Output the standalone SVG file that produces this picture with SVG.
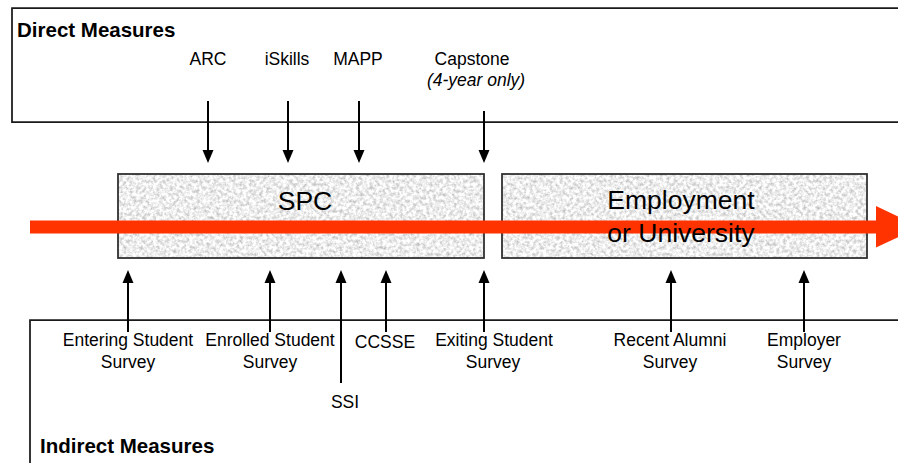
<svg xmlns="http://www.w3.org/2000/svg" width="898" height="463" viewBox="0 0 898 463">
  <style>
    .panel { fill: #ffffff; stroke: #1a1a1a; stroke-width: 1.75; }
    .box { fill: none; stroke: #2b2b2b; stroke-width: 1.75; }
    .tex { fill: #e8e8e8; filter: url(#granite); }
    .conn { stroke: #000; stroke-width: 2; fill: none; }
    .down { marker-end: url(#ah); }
    .up { marker-end: url(#ah); }
    text { font-family: "Liberation Sans", Arial, Helvetica, sans-serif; fill: #000; }
    .lbl { font-size: 17.5px; text-anchor: middle; }
    .ital { font-style: italic; }
    .title { font-size: 20.5px; font-weight: bold; }
    .big { font-size: 26.5px; text-anchor: middle; }
  </style>
  <defs>
    <filter id="granite" x="0" y="0" width="100%" height="100%" color-interpolation-filters="sRGB">
      <feTurbulence type="fractalNoise" baseFrequency="0.3" numOctaves="4" seed="7" result="n"/>
      <feColorMatrix in="n" type="matrix" values="0.5 0 0 0 0.68  0.5 0 0 0 0.68  0.5 0 0 0 0.68  0 0 0 0 1"/>
    </filter>
    <marker id="ah" markerUnits="userSpaceOnUse" markerWidth="13" markerHeight="11" refX="9" refY="5.5" orient="auto" overflow="visible">
      <path d="M0,0 L13,5.5 L0,11 z" fill="#000"/>
    </marker>
  </defs>

  <rect width="898" height="463" fill="#ffffff"/>

  <g id="direct-measures">
    <path class="panel" d="M905,8 H12 V122 H905"/>
    <text class="title" x="17" y="37">Direct Measures</text>
  </g>

  <g id="indirect-measures">
    <path class="panel" d="M905,320 H30 V470"/>
    <text class="title" x="40" y="453">Indirect Measures</text>
  </g>

  <g id="spc-bg">
    <rect class="tex" x="118" y="174" width="366" height="84"/>
    <rect class="box" x="118" y="174" width="366" height="84"/>
  </g>
  <g id="employment-bg">
    <rect class="tex" x="502" y="174" width="365" height="84"/>
    <rect class="box" x="502" y="174" width="365" height="84"/>
  </g>

  <g id="flow">
    <path d="M30,220.5 H876 V206 L920,226.8 L876,247.5 V233.5 H30 z" fill="#ff3300"/>
  </g>

  <g id="spc">
    <text class="big" x="305" y="210">SPC</text>
  </g>
  <g id="employment">
    <text class="big" x="681" y="209">Employment</text>
    <text class="big" x="681" y="242">or University</text>
  </g>

  <g id="connectors">
    <line class="conn down" x1="208" y1="101" x2="208" y2="159"/>
    <line class="conn down" x1="288" y1="101" x2="288" y2="159"/>
    <line class="conn down" x1="359" y1="101" x2="359" y2="159"/>
    <line class="conn down" x1="484" y1="111" x2="484" y2="159"/>

    <line class="conn up" x1="128" y1="332" x2="128" y2="274"/>
    <line class="conn up" x1="270" y1="332" x2="270" y2="274"/>
    <line class="conn up" x1="341" y1="383" x2="341" y2="274"/>
    <line class="conn up" x1="386" y1="332" x2="386" y2="274"/>
    <line class="conn up" x1="484" y1="332" x2="484" y2="274"/>
    <line class="conn up" x1="671" y1="332" x2="671" y2="274"/>
    <line class="conn up" x1="804" y1="332" x2="804" y2="274"/>
  </g>

  <g id="arc"><text class="lbl" x="208" y="65">ARC</text></g>
  <g id="iskills"><text class="lbl" x="287" y="65">iSkills</text></g>
  <g id="mapp"><text class="lbl" x="358" y="65">MAPP</text></g>
  <g id="capstone">
    <text class="lbl" x="472" y="65">Capstone</text>
    <text class="lbl ital" x="476" y="86">(4-year only)</text>
  </g>

  <g id="entering">
    <text class="lbl" x="128" y="346">Entering Student</text>
    <text class="lbl" x="128" y="368">Survey</text>
  </g>
  <g id="enrolled">
    <text class="lbl" x="270" y="346">Enrolled Student</text>
    <text class="lbl" x="270" y="368">Survey</text>
  </g>
  <g id="ssi"><text class="lbl" x="345" y="408">SSI</text></g>
  <g id="ccsse"><text class="lbl" x="385" y="348">CCSSE</text></g>
  <g id="exiting">
    <text class="lbl" x="494" y="346">Exiting Student</text>
    <text class="lbl" x="493" y="368">Survey</text>
  </g>
  <g id="alumni">
    <text class="lbl" x="670" y="346">Recent Alumni</text>
    <text class="lbl" x="670" y="368">Survey</text>
  </g>
  <g id="employer">
    <text class="lbl" x="804" y="346">Employer</text>
    <text class="lbl" x="804" y="368">Survey</text>
  </g>
</svg>
